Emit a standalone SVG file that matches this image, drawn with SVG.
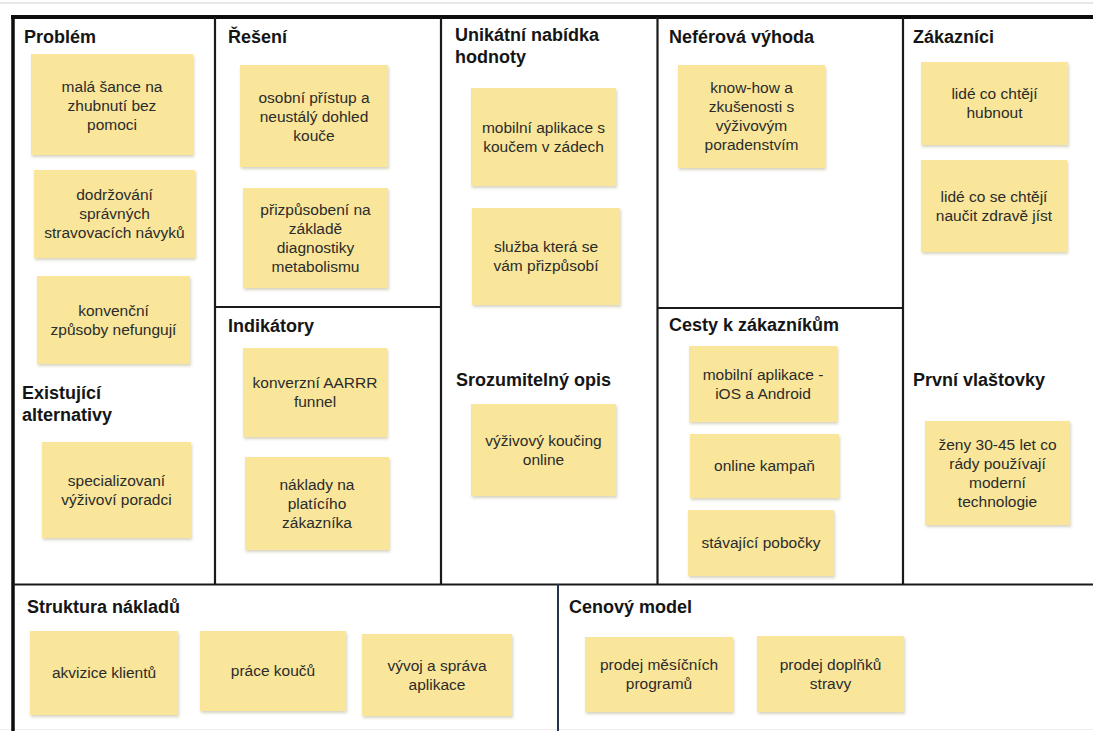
<svg xmlns="http://www.w3.org/2000/svg" width="1093" height="731" viewBox="0 0 1093 731">
  <style>
    .title { font-family: "Liberation Sans", Arial, sans-serif; font-weight: bold; font-size: 18px; fill: #151515; }
    .note { fill: #f9e69a; filter: url(#noteShadow); }
    .nt { font-family: "Liberation Sans", Arial, sans-serif; font-size: 15.5px; fill: #2b2b2b; text-anchor: middle; }
    .grid { stroke: #1a1a1a; stroke-width: 2.2; fill: none; }
  </style>
  <defs>
    <filter id="noteShadow" x="-10%" y="-10%" width="125%" height="130%">
      <feDropShadow dx="1" dy="2" stdDeviation="1.6" flood-color="#7a6a30" flood-opacity="0.3"/>
    </filter>
  </defs>

  <rect x="0" y="0" width="1093" height="731" fill="#ffffff"/>
  <line x1="0" y1="3" x2="1093" y2="3" stroke="#cfcfcf" stroke-width="1"/>
  <line x1="0" y1="729.5" x2="1093" y2="729.5" stroke="#ececec" stroke-width="1"/>

  <!-- canvas frame and section dividers -->
  <g id="grid">
    <line x1="11" y1="17" x2="1093" y2="17" stroke="#0d0d0d" stroke-width="4"/>
    <line x1="13" y1="15" x2="13" y2="731" stroke="#0d0d0d" stroke-width="3.5"/>
    <line class="grid" x1="215" y1="17" x2="215" y2="584"/>
    <line class="grid" x1="441" y1="17" x2="441" y2="584"/>
    <line class="grid" x1="657.5" y1="17" x2="657.5" y2="584"/>
    <line class="grid" x1="903" y1="17" x2="903" y2="584"/>
    <line class="grid" x1="215" y1="307" x2="441" y2="307"/>
    <line class="grid" x1="657.5" y1="308" x2="903" y2="308"/>
    <line class="grid" x1="13" y1="584.5" x2="1093" y2="584.5"/>
    <line x1="558" y1="584" x2="558" y2="731" stroke="#24344a" stroke-width="2"/>
  </g>

  <!-- section titles -->
  <g id="titles">
    <text class="title" x="24" y="43">Problém</text>
    <text class="title" x="22" y="399">Existující</text>
    <text class="title" x="22" y="421">alternativy</text>
    <text class="title" x="228" y="43">Řešení</text>
    <text class="title" x="228" y="332">Indikátory</text>
    <text class="title" x="455" y="41">Unikátní nabídka</text>
    <text class="title" x="455" y="63">hodnoty</text>
    <text class="title" x="456" y="386">Srozumitelný opis</text>
    <text class="title" x="669" y="43">Neférová výhoda</text>
    <text class="title" x="669" y="331">Cesty k zákazníkům</text>
    <text class="title" x="913" y="43">Zákazníci</text>
    <text class="title" x="913" y="386">První vlaštovky</text>
    <text class="title" x="27" y="613">Struktura nákladů</text>
    <text class="title" x="569" y="613">Cenový model</text>
  </g>

  <!-- Problém -->
  <g id="note-problem-1">
    <rect class="note" x="31" y="54" width="162" height="101"/>
    <text class="nt" x="112" y="92">malá šance na</text>
    <text class="nt" x="112" y="111">zhubnutí bez</text>
    <text class="nt" x="112" y="130">pomoci</text>
  </g>
  <g id="note-problem-2">
    <rect class="note" x="34" y="170" width="161" height="88"/>
    <text class="nt" x="114.5" y="200">dodržování</text>
    <text class="nt" x="114.5" y="219">správných</text>
    <text class="nt" x="114.5" y="238">stravovacích návyků</text>
  </g>
  <g id="note-problem-3">
    <rect class="note" x="37" y="276" width="153" height="88"/>
    <text class="nt" x="113.5" y="316">konvenční</text>
    <text class="nt" x="113.5" y="335">způsoby nefungují</text>
  </g>
  <g id="note-alternativy-1">
    <rect class="note" x="42" y="442" width="149" height="96"/>
    <text class="nt" x="116.5" y="486">specializovaní</text>
    <text class="nt" x="116.5" y="505">výživoví poradci</text>
  </g>

  <!-- Řešení -->
  <g id="note-reseni-1">
    <rect class="note" x="240" y="65" width="148" height="102"/>
    <text class="nt" x="314" y="103">osobní přístup a</text>
    <text class="nt" x="314" y="122">neustálý dohled</text>
    <text class="nt" x="314" y="141">kouče</text>
  </g>
  <g id="note-reseni-2">
    <rect class="note" x="243" y="188" width="145" height="100"/>
    <text class="nt" x="315.5" y="214.5">přizpůsobení na</text>
    <text class="nt" x="315.5" y="233.5">základě</text>
    <text class="nt" x="315.5" y="252.5">diagnostiky</text>
    <text class="nt" x="315.5" y="271.5">metabolismu</text>
  </g>

  <!-- Indikátory -->
  <g id="note-indikatory-1">
    <rect class="note" x="243" y="348" width="144" height="89"/>
    <text class="nt" x="315" y="388">konverzní AARRR</text>
    <text class="nt" x="315" y="407">funnel</text>
  </g>
  <g id="note-indikatory-2">
    <rect class="note" x="245" y="457" width="144" height="93"/>
    <text class="nt" x="317" y="490">náklady na</text>
    <text class="nt" x="317" y="509">platícího</text>
    <text class="nt" x="317" y="528">zákazníka</text>
  </g>

  <!-- Unikátní nabídka hodnoty -->
  <g id="note-hodnota-1">
    <rect class="note" x="471" y="88" width="145" height="98"/>
    <text class="nt" x="543.5" y="132.5">mobilní aplikace s</text>
    <text class="nt" x="543.5" y="151.5">koučem v zádech</text>
  </g>
  <g id="note-hodnota-2">
    <rect class="note" x="472" y="208" width="148" height="97"/>
    <text class="nt" x="546" y="252">služba která se</text>
    <text class="nt" x="546" y="271">vám přizpůsobí</text>
  </g>

  <!-- Srozumitelný opis -->
  <g id="note-opis-1">
    <rect class="note" x="471" y="404" width="145" height="92"/>
    <text class="nt" x="543.5" y="446">výživový koučing</text>
    <text class="nt" x="543.5" y="465">online</text>
  </g>

  <!-- Neférová výhoda -->
  <g id="note-vyhoda-1">
    <rect class="note" x="678" y="65" width="147" height="103"/>
    <text class="nt" x="751.5" y="93">know-how a</text>
    <text class="nt" x="751.5" y="112">zkušenosti s</text>
    <text class="nt" x="751.5" y="131">výživovým</text>
    <text class="nt" x="751.5" y="150">poradenstvím</text>
  </g>

  <!-- Cesty k zákazníkům -->
  <g id="note-cesty-1">
    <rect class="note" x="689" y="346" width="148" height="76"/>
    <text class="nt" x="763" y="379.5">mobilní aplikace -</text>
    <text class="nt" x="763" y="398.5">iOS a Android</text>
  </g>
  <g id="note-cesty-2">
    <rect class="note" x="690" y="434" width="149" height="64"/>
    <text class="nt" x="764.5" y="471">online kampaň</text>
  </g>
  <g id="note-cesty-3">
    <rect class="note" x="688" y="510" width="146" height="66"/>
    <text class="nt" x="761" y="548">stávající pobočky</text>
  </g>

  <!-- Zákazníci -->
  <g id="note-zakaznici-1">
    <rect class="note" x="921" y="62" width="147" height="83"/>
    <text class="nt" x="994.5" y="99">lidé co chtějí</text>
    <text class="nt" x="994.5" y="118">hubnout</text>
  </g>
  <g id="note-zakaznici-2">
    <rect class="note" x="921" y="160" width="146" height="92"/>
    <text class="nt" x="994" y="201.5">lidé co se chtějí</text>
    <text class="nt" x="994" y="220.5">naučit zdravě jíst</text>
  </g>

  <!-- První vlaštovky -->
  <g id="note-vlastovky-1">
    <rect class="note" x="925" y="421" width="145" height="104"/>
    <text class="nt" x="997.5" y="449.5">ženy 30-45 let co</text>
    <text class="nt" x="997.5" y="468.5">rády používají</text>
    <text class="nt" x="997.5" y="487.5">moderní</text>
    <text class="nt" x="997.5" y="506.5">technologie</text>
  </g>

  <!-- Struktura nákladů -->
  <g id="note-naklady-1">
    <rect class="note" x="30" y="631" width="148" height="84"/>
    <text class="nt" x="104" y="678">akvizice klientů</text>
  </g>
  <g id="note-naklady-2">
    <rect class="note" x="200" y="631" width="146" height="80"/>
    <text class="nt" x="273" y="676">práce koučů</text>
  </g>
  <g id="note-naklady-3">
    <rect class="note" x="362" y="634" width="150" height="82"/>
    <text class="nt" x="437" y="670.5">vývoj a správa</text>
    <text class="nt" x="437" y="689.5">aplikace</text>
  </g>

  <!-- Cenový model -->
  <g id="note-cena-1">
    <rect class="note" x="585" y="637" width="148" height="75"/>
    <text class="nt" x="659" y="670">prodej měsíčních</text>
    <text class="nt" x="659" y="689">programů</text>
  </g>
  <g id="note-cena-2">
    <rect class="note" x="757" y="636" width="147" height="76"/>
    <text class="nt" x="830.5" y="669.5">prodej doplňků</text>
    <text class="nt" x="830.5" y="688.5">stravy</text>
  </g>
</svg>
